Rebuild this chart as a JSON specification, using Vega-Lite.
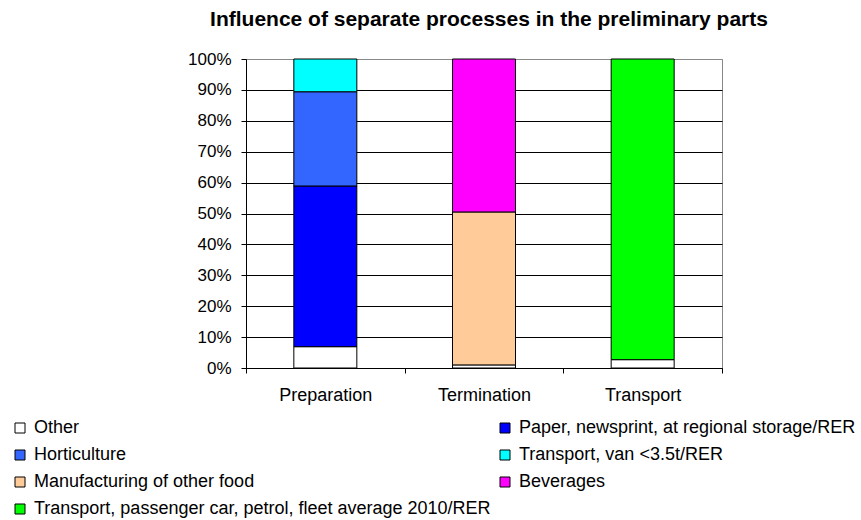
{
  "$schema": "https://vega.github.io/schema/vega-lite/v6.json",
  "autosize": "none",
  "width": 476,
  "height": 309,
  "padding": {"left": 246, "top": 59, "right": 139, "bottom": 152},
  "background": "white",
  "title": {
    "text": "Influence of separate processes in the preliminary parts",
    "font": "Liberation Sans",
    "fontSize": 21,
    "fontWeight": "bold",
    "color": "black",
    "anchor": "middle",
    "offset": 20,
    "dx": 5
  },
  "data": {
    "values": [
      {"stage": "Preparation", "process": "Other", "rank": 1, "share": 6.9},
      {"stage": "Preparation", "process": "Paper, newsprint, at regional storage/RER", "rank": 2, "share": 52.0},
      {"stage": "Preparation", "process": "Horticulture", "rank": 3, "share": 30.5},
      {"stage": "Preparation", "process": "Transport, van <3.5t/RER", "rank": 4, "share": 10.6},
      {"stage": "Termination", "process": "Other", "rank": 1, "share": 1.0},
      {"stage": "Termination", "process": "Manufacturing of other food", "rank": 5, "share": 49.5},
      {"stage": "Termination", "process": "Beverages", "rank": 6, "share": 49.5},
      {"stage": "Transport", "process": "Other", "rank": 1, "share": 2.7},
      {"stage": "Transport", "process": "Transport, passenger car, petrol, fleet average 2010/RER", "rank": 7, "share": 97.3}
    ]
  },
  "mark": {"type": "bar", "stroke": "black", "strokeWidth": 1, "size": 63},
  "encoding": {
    "x": {
      "field": "stage",
      "type": "nominal",
      "scale": {"paddingInner": 0, "paddingOuter": 0},
      "axis": {
        "title": null,
        "labelAngle": 0,
        "tickBand": "extent",
        "tickSize": 5,
        "tickColor": "black",
        "domainColor": "black",
        "labelFont": "Liberation Sans",
        "labelFontSize": 18,
        "labelColor": "black",
        "labelPadding": 13
      }
    },
    "y": {
      "field": "share",
      "type": "quantitative",
      "stack": "normalize",
      "scale": {"domain": [0, 1], "nice": false},
      "axis": {
        "title": null,
        "format": ".0%",
        "values": [0, 0.1, 0.2, 0.3, 0.4, 0.5, 0.6, 0.7, 0.8, 0.9, 1],
        "grid": true,
        "gridColor": {"condition": {"test": "datum.value === 1", "value": "#888888"}, "value": "black"},
        "gridOpacity": 1,
        "tickSize": 5,
        "tickColor": "black",
        "domainColor": "black",
        "labelFont": "Liberation Sans",
        "labelFontSize": 17,
        "labelColor": "black",
        "labelPadding": 10
      }
    },
    "order": {"field": "rank", "type": "quantitative", "sort": "ascending"},
    "color": {
      "field": "process",
      "type": "nominal",
      "scale": {
        "domain": ["Other", "Horticulture", "Manufacturing of other food", "Transport, passenger car, petrol, fleet average 2010/RER", "Paper, newsprint, at regional storage/RER", "Transport, van <3.5t/RER", "Beverages"],
        "range": ["#ffffff", "#3366ff", "#ffcc99", "#00ff00", "#0000ff", "#00ffff", "#ff00ff"]
      },
      "legend": {
        "title": null,
        "orient": "none",
        "legendX": -235,
        "legendY": 360,
        "columns": 2,
        "columnPadding": 5,
        "rowPadding": 9,
        "padding": 0,
        "symbolType": "square",
        "symbolSize": 100,
        "symbolStrokeColor": "black",
        "symbolStrokeWidth": 1,
        "labelFont": "Liberation Sans",
        "labelFontSize": 18,
        "labelColor": "black",
        "labelOffset": 5,
        "labelLimit": 600
      }
    }
  },
  "config": {"view": {"stroke": "#888888"}}
}
